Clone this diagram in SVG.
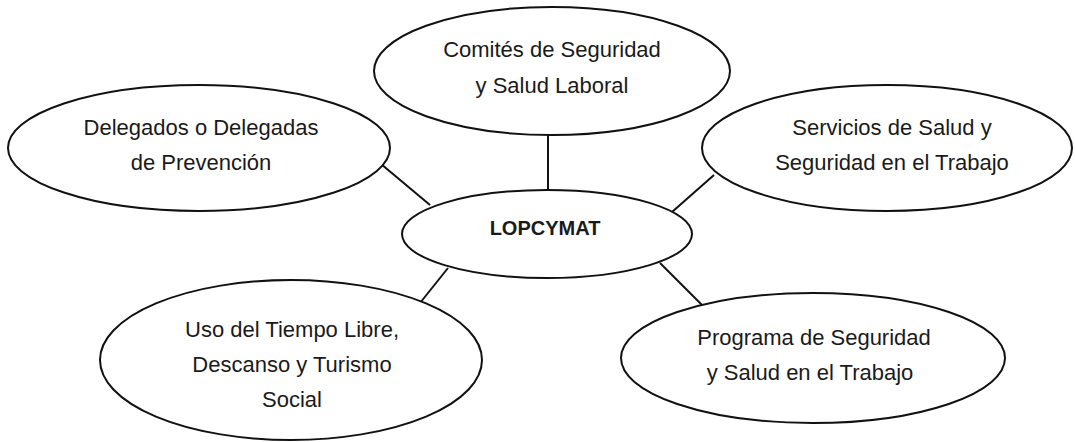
<svg xmlns="http://www.w3.org/2000/svg" width="1075" height="442" viewBox="0 0 1075 442">
<style>
.node ellipse{fill:#fff;stroke:#111;stroke-width:2}
.node text{font-family:"Liberation Sans",Arial,sans-serif;font-size:22px;fill:#1a1a1a;text-anchor:middle}
#center text{font-weight:bold;font-size:20px}
#connectors line{stroke:#111;stroke-width:2}
</style>
<rect width="1075" height="442" fill="#fff"/>
<g id="connectors">
<line x1="548" y1="135" x2="548" y2="190"/>
<line x1="381" y1="164" x2="430" y2="205"/>
<line x1="714" y1="175" x2="672" y2="212"/>
<line x1="448" y1="268" x2="420" y2="303"/>
<line x1="660" y1="263" x2="702" y2="305"/>
</g>
<g id="comites" class="node">
<ellipse cx="552" cy="71" rx="178" ry="64"/>
<text x="552" y="57">Comités de Seguridad</text>
<text x="552" y="93">y Salud Laboral</text>
</g>
<g id="delegados" class="node">
<ellipse cx="199" cy="148" rx="191" ry="63"/>
<text x="201" y="135">Delegados o Delegadas</text>
<text x="201" y="170">de Prevención</text>
</g>
<g id="servicios" class="node">
<ellipse cx="887" cy="148" rx="185" ry="63"/>
<text x="892" y="135">Servicios de Salud y</text>
<text x="892" y="170">Seguridad en el Trabajo</text>
</g>
<g id="center" class="node">
<ellipse cx="547" cy="234" rx="145" ry="44"/>
<text x="545" y="235">LOPCYMAT</text>
</g>
<g id="uso" class="node">
<ellipse cx="291" cy="360" rx="191" ry="80"/>
<text x="292" y="337">Uso del Tiempo Libre,</text>
<text x="292" y="372">Descanso y Turismo</text>
<text x="292" y="407">Social</text>
</g>
<g id="programa" class="node">
<ellipse cx="813" cy="358" rx="192" ry="65"/>
<text x="814" y="345">Programa de Seguridad</text>
<text x="810" y="380">y Salud en el Trabajo</text>
</g>
</svg>
